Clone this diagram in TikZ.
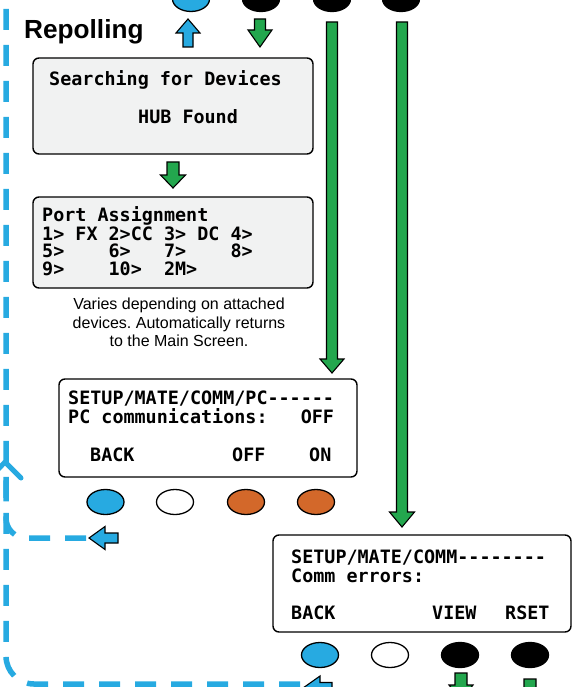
\documentclass[tikz,border=0pt]{standalone}
\usepackage{fontspec}
\setmainfont{Liberation Sans}
\setmonofont{DejaVu Sans Mono}
\usetikzlibrary{shapes.geometric}
\frenchspacing
\definecolor{cblue}{HTML}{27AAE1}
\definecolor{cgreen}{HTML}{23A74E}
\definecolor{corange}{HTML}{D3682A}
\definecolor{cgray}{HTML}{F1F2F2}
\newcommand\blkv[7]{% x, ytail, yneck, ytip, halfshaft, halfhead, colour
  \filldraw[fill=#7, line width=1.1pt, line join=miter]
    (#1-#5,#2) -- (#1+#5,#2) -- (#1+#5,#3) -- (#1+#6,#3) -- (#1,#4)
    -- (#1-#6,#3) -- (#1-#5,#3) -- cycle;}
\newcommand\blkh[7]{% y, xtail, xneck, xtip, halfshaft, halfhead, colour
  \filldraw[fill=#7, line width=1.1pt, line join=miter]
    (#2,#1-#5) -- (#3,#1-#5) -- (#3,#1-#6) -- (#4,#1) -- (#3,#1+#6)
    -- (#3,#1+#5) -- (#2,#1+#5) -- cycle;}
\begin{document}
\begin{tikzpicture}[x=1pt,y=-1pt,
  lcdbox/.style={draw=black, line width=1.4pt, rounded corners=6pt},
  lcd/.style={font=\ttfamily\bfseries\fontsize{18.4}{18}\selectfont, anchor=base west, inner sep=0},
  captxt/.style={font=\fontsize{16}{18.5}\selectfont, anchor=base, inner sep=0},
  btn/.style={ellipse, draw=black, line width=1.3pt, minimum width=37pt, minimum height=25pt, inner sep=0},
  dashblue/.style={cblue, line width=5.5pt, dash pattern=on 21pt off 15pt}]
\useasboundingbox (0,0) rectangle (588,687);
\clip (0,0) rectangle (588,687);

% dashed return paths
\draw[dashblue, rounded corners=28pt] (300,684) -- (6,684) -- (6,-10);
\draw[dashblue, rounded corners=20pt] (86,538) -- (6,538) -- (6,466);
\draw[cblue, line width=5pt, line cap=round, line join=round] (-10,478) -- (5,462) -- (21,478);

% top buttons
\node[btn, fill=cblue] (t1) at (191,-1) {};
\node[btn, fill=black] (t2) at (261,-1) {};
\node[btn, fill=black] (t3) at (332,-1) {};
\node[btn, fill=black] (t4) at (401,-1) {};

\node[font=\bfseries\fontsize{26.2}{26}\selectfont, anchor=base west, inner sep=0] (rep) at (24,38.5) {Repolling};
\blkv{188}{47}{33}{19}{5}{12}{cblue}
\blkv{260}{19}{30}{47}{5.5}{12}{cgreen}

% long arrows
\blkv{332}{22}{359}{373}{5.5}{12}{cgreen}
\blkv{402}{22}{512}{527}{5.5}{12.5}{cgreen}

% search box
\draw[lcdbox, fill=cgray] (33,58) rectangle (313,154);
\node[lcd] (s1) at (49,86) {Searching for Devices};
\node[lcd] (s2) at (138,124) {HUB Found};
\blkv{173}{162}{175}{188}{6}{12.5}{cgreen}

% port box
\draw[lcdbox, fill=cgray] (33,197) rectangle (313,288);
\node[lcd] (p1) at (42,221.5) {Port Assignment};
\node[lcd] (p2) at (42,240) {1> FX 2>CC 3> DC 4>};
\node[lcd] (p3) at (42,257.5) {5>~~~~6>~~~7>~~~~8>};
\node[lcd] (p4) at (42,275) {9>~~~~10>~~2M>};
\node[captxt] (c1) at (179,309) {Varies depending on attached};
\node[captxt] (c2) at (179,328) {devices. Automatically returns};
\node[captxt] (c3) at (179,346.5) {to the Main Screen.};

% PC box
\draw[lcdbox, fill=white] (59,379) rectangle (357,477);
\node[lcd] (q1) at (68,404) {SETUP/MATE/COMM/PC------};
\node[lcd] (q2) at (68,423) {PC communications:~~~OFF};
\node[lcd] (q3) at (90,461) {BACK};
\node[lcd] (q4) at (232,461) {OFF};
\node[lcd] (q5) at (309,461) {ON};
\node[btn, fill=cblue] (b1) at (105.5,502) {};
\node[btn, fill=white] (b2) at (175,502) {};
\node[btn, fill=corange] (b3) at (246,502) {};
\node[btn, fill=corange] (b4) at (316,502) {};
\blkh{538}{118}{105}{89}{5}{11.5}{cblue}

% Comm box
\draw[lcdbox, fill=white] (273,535) rectangle (571,632);
\node[lcd] (r1) at (291,563) {SETUP/MATE/COMM--------};
\node[lcd] (r2) at (291,582) {Comm errors:};
\node[lcd] (r3) at (291,619) {BACK};
\node[lcd] (r4) at (432,619) {VIEW};
\node[lcd] (r5) at (505,619) {RSET};
\node[btn, fill=cblue] (d1) at (320,655) {};
\node[btn, fill=white] (d2) at (390,655) {};
\node[btn, fill=black] (d3) at (460,655) {};
\node[btn, fill=black] (d4) at (530,655) {};
\blkh{688}{332}{320}{303}{5.5}{12}{cblue}
\blkv{461}{673}{685}{700}{6}{12}{cgreen}
\blkv{530}{679}{692}{705}{6}{12}{cgreen}
\end{tikzpicture}
\end{document}
